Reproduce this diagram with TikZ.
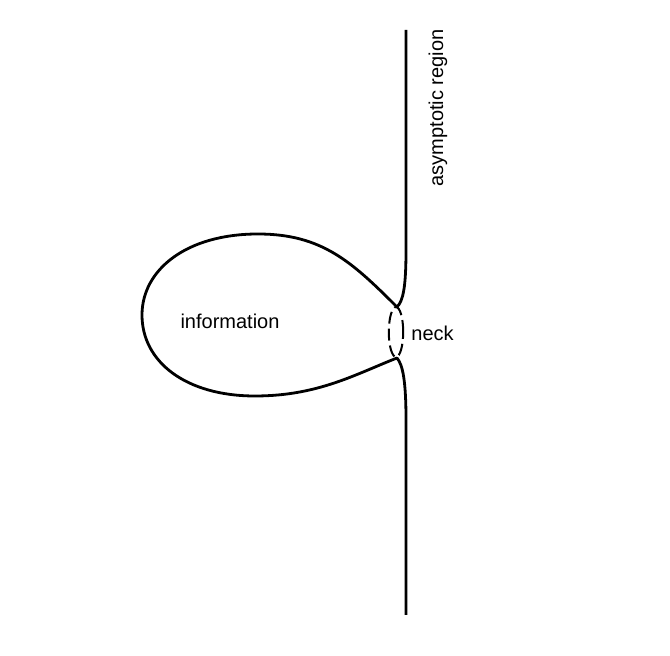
\documentclass[tikz,border=0pt]{standalone}
\usepackage{fontspec}
\setsansfont{Liberation Sans}
\usetikzlibrary{positioning}

\begin{document}
\begin{tikzpicture}[
    x=0.5pt, y=-0.5pt,
    curve/.style={line width=1.4pt, line join=round},
    throat/.style={line width=1pt, dash pattern=on 6pt off 2.5pt},
    lbl/.style={font=\sffamily\fontsize{10}{12}\selectfont, inner sep=0pt}
  ]
  \useasboundingbox (0,0) rectangle (670,656);

  % cusps where the lobe meets the strand
  \coordinate (ntop) at (397,307);
  \coordinate (nbot) at (397,358);

  % upper strand and lobe
  \draw[curve] (406,30) -- (406,250)
    .. controls (406,288) and (403,301) .. (ntop)
    .. controls (352,262) and (322,234) .. (258,234)
    .. controls (186,234) and (142,270) .. (142,315)
    .. controls (142,362) and (186,396) .. (255,396)
    .. controls (318,396) and (356,374) .. (nbot)
    .. controls (403,365) and (406,382) .. (406,420) -- (406,615);

  % neck
  \draw[throat] (396,332) ellipse [x radius=3.6pt, y radius=12.5pt];

  % labels
  \node[lbl] (info) at (230,321) {information};
  \node[lbl, anchor=west] (neck) at (411,333) {neck};
  \node[lbl, rotate=90] (asym) at (438,108) {asymptotic region};
\end{tikzpicture}
\end{document}
